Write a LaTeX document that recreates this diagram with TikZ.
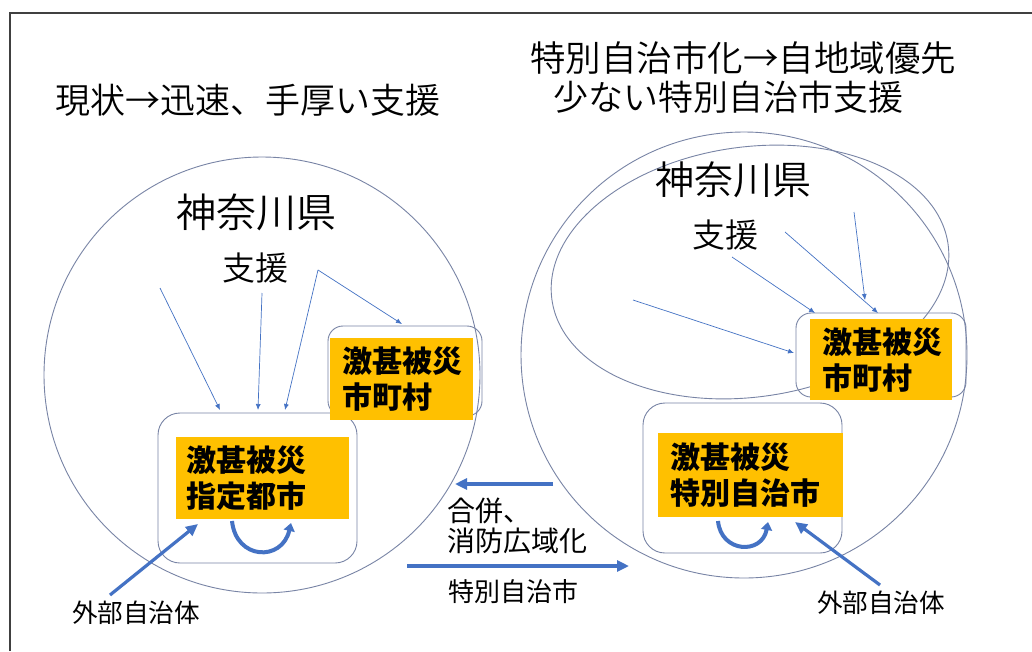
\documentclass[tikz,border=0pt]{standalone}
\usepackage{fontspec}
\setmainfont{Noto Sans CJK JP}
\newfontfamily\lightjp{Noto Sans CJK JP DemiLight}
\usetikzlibrary{arrows.meta,shapes.geometric}
\definecolor{ringc}{RGB}{120,132,165}
\definecolor{bluec}{RGB}{68,114,196}
\definecolor{orangec}{RGB}{255,192,0}
\definecolor{framec}{RGB}{64,64,64}
\newcommand{\fs}[2]{\fontsize{#1}{#2}\selectfont}
\tikzset{
  ring/.style={draw=ringc, line width=0.9pt, inner sep=0pt},
  rbox/.style={draw=ringc, line width=0.9pt, rounded corners=#1, inner sep=0pt},
  obox/.style={fill=orangec, anchor=north west, inner ysep=0pt, align=left,
    font=\fs{30}{36}\bfseries, text=black},
  supp/.style={draw=bluec, line width=0.7pt, -{Latex[length=6pt,width=5pt]}},
  bigarr/.style={draw=bluec, line width=3.2pt, -{Triangle[length=12pt,width=11pt]}},
  uarr/.style={draw=bluec, line width=4pt, -{Triangle[length=8pt,width=11pt]}},
  lbl/.style={inner sep=0pt, text=black},
}
\begin{document}
\begin{tikzpicture}[x=1pt,y=-1pt]
\useasboundingbox (0,0) rectangle (1032,651);
\fill[white] (0,0) rectangle (1032,651);
% frame
\draw[framec, line width=1.5pt] (10,651) -- (10,13) -- (1032,13);

% titles
\node[lbl, anchor=west, font=\lightjp\fs{35}{42}] (t1) at (55,100) {現状→迅速、手厚い支援};
\node[lbl, anchor=west, font=\lightjp\fs{35.5}{42}] (t2) at (530,58) {特別自治市化→自地域優先};
\node[lbl, anchor=west, font=\lightjp\fs{35}{42}] (t3) at (553,97) {少ない特別自治市支援};

% left prefecture
\node[ring, circle, minimum size=436pt] (lc) at (262,375) {};
\node[lbl, font=\lightjp\fs{40}{48}] (lk) at (256,212) {神奈川県};
\node[lbl, font=\lightjp\fs{33}{40}] (ls) at (255,268) {支援};
\node[rbox=22pt, minimum width=199pt, minimum height=150pt] (lb) at (257.5,488) {};
\node[rbox=15pt, minimum width=154pt, minimum height=90pt] (lm) at (405,371) {};
\node[obox, text width=153pt, inner xsep=10pt, minimum height=82pt] (lbo) at (176,437) {激甚被災\\指定都市};
\node[obox, text width=119pt, inner xsep=12pt, minimum height=82pt] (lmo) at (330,338) {激甚被災\\市町村};

% right prefecture
\node[ring, circle, minimum size=446pt] (rc) at (744,355) {};
\node[ring, ellipse, minimum width=400pt, minimum height=250pt, rotate=8] (re) at (750,272) {};
\node[lbl, font=\lightjp\fs{39}{46}] (rk) at (733,180) {神奈川県};
\node[lbl, font=\lightjp\fs{33}{40}] (rs) at (725,235) {支援};
\node[rbox=15pt, minimum width=170pt, minimum height=84pt] (rm) at (881,355) {};
\node[rbox=22pt, minimum width=199pt, minimum height=150pt] (rb) at (742.5,478) {};
\node[obox, text width=118pt, inner xsep=12pt, minimum height=81pt] (rmo) at (810,319) {激甚被災\\市町村};
\node[obox, text width=161pt, inner xsep=12pt, minimum height=84pt] (rbo) at (658,433) {激甚被災\\特別自治市};

% support arrows left
\coordinate (a1s) at (160,288); \coordinate (a1e) at (220,410);
\coordinate (a2s) at (262,293); \coordinate (a2e) at (258,410);
\coordinate (a3s) at (318,270); \coordinate (a3e) at (285,410);
\coordinate (a4e) at (402,324);
\draw[supp] (a1s) -- (a1e);
\draw[supp] (a2s) -- (a2e);
\draw[supp] (a3s) -- (a3e);
\draw[supp] (a3s) -- (a4e);

% support arrows right
\coordinate (b1s) at (633,300); \coordinate (b1e) at (794,353);
\coordinate (b2s) at (732,257); \coordinate (b2e) at (815,313);
\coordinate (b3s) at (785,232); \coordinate (b3e) at (878,313);
\coordinate (b4s) at (854,212); \coordinate (b4e) at (865,300);
\draw[supp] (b1s) -- (b1e);
\draw[supp] (b2s) -- (b2e);
\draw[supp] (b3s) -- (b3e);
\draw[supp] (b4s) -- (b4e);

% self-help U arrows
\coordinate (u1a) at (232,521); \coordinate (u1b) at (291,523);
\draw[uarr] (u1a) .. controls (236,560) and (282,562) .. (u1b);
\coordinate (u2a) at (718,521); \coordinate (u2b) at (768,522);
\draw[uarr] (u2a) .. controls (721,553) and (762,555) .. (u2b);

% external municipalities
\node[lbl, font=\fs{25.6}{30}] (le) at (136,613) {外部自治体};
\node[lbl, font=\fs{25.6}{30}] (rex) at (881,603) {外部自治体};
\coordinate (c1s) at (110,595); \coordinate (c1e) at (198,524);
\coordinate (c2s) at (880,585); \coordinate (c2e) at (795,522);
\draw[bigarr] (c1s) -- (c1e);
\draw[bigarr] (c2s) -- (c2e);

% middle arrows
\coordinate (d1s) at (553,484); \coordinate (d1e) at (455,484);
\coordinate (d2s) at (407,566); \coordinate (d2e) at (629,566);
\draw[bigarr] (d1s) -- (d1e);
\draw[bigarr] (d2s) -- (d2e);
\node[lbl, anchor=west, align=left, font=\fs{28}{30}] (mg) at (447,526) {合併、\\消防広域化};
\node[lbl, anchor=west, font=\fs{26}{30}] (mt) at (448,592) {特別自治市};
\end{tikzpicture}
\end{document}
